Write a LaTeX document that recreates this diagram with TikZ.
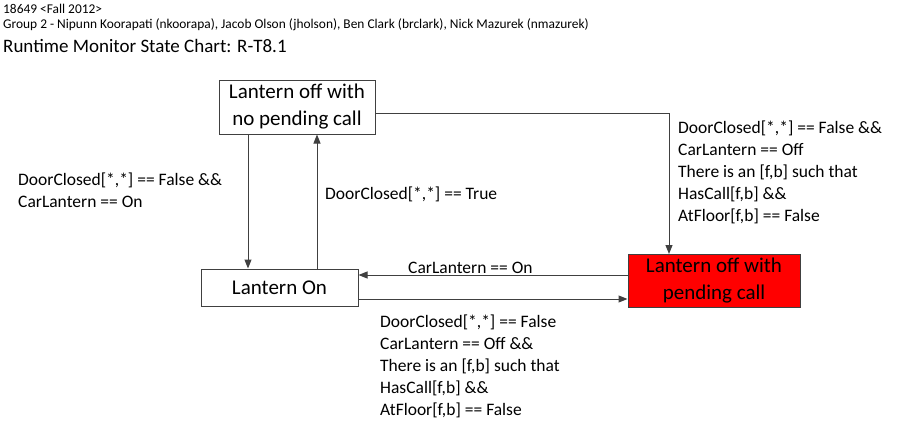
\documentclass[tikz,border=0pt]{standalone}
\usepackage{fontspec}
\setmainfont{Carlito}
\usetikzlibrary{arrows.meta}
\newcommand{\linecol}{black!75}
\newcommand{\pendcol}{red}

\begin{document}
\begin{tikzpicture}[x=1pt, y=-1pt,
    state/.style={draw=\linecol, line width=1pt, inner sep=0pt, align=center,
        font=\fontsize{21}{27}\selectfont},
    lbl/.style={anchor=north west, inner sep=0pt, align=left,
        font=\fontsize{17.5}{22}\selectfont},
    arr/.style={draw=\linecol, line width=1pt, -{Triangle[length=9pt, width=7pt]}}]

    \useasboundingbox (0,0) rectangle (900,423);

    \node[anchor=base west, inner sep=0pt, font=\fontsize{13.4}{15}\selectfont] (course) at (3,13) {18649 <Fall 2012>};
    \node[anchor=base west, inner sep=0pt, font=\fontsize{13.4}{15}\selectfont] (group) at (3,28) {Group 2 - Nipunn Koorapati (nkoorapa), Jacob Olson (jholson), Ben Clark (brclark), Nick Mazurek (nmazurek)};
    \node[anchor=base west, inner sep=0pt, font=\fontsize{19}{22}\selectfont] (title) at (3,52) {Runtime Monitor State Chart: R-T8.1};

    \node[state, minimum width=156pt, minimum height=54pt] (nopend) at (297,107) {Lantern off with\\no pending call};
    \node[state, minimum width=157pt, minimum height=37pt] (on) at (279.5,287.5) {Lantern On};
    \node[state, fill=\pendcol, minimum width=172pt, minimum height=53pt] (pend) at (714,281) {Lantern off with\\pending call};

    \draw[arr] ([xshift=-49pt]nopend.south) -- ([xshift=-49pt]nopend.south |- on.north);
    \draw[arr] ([xshift=20pt]nopend.south |- on.north) -- ([xshift=20pt]nopend.south);
    \draw[arr] ([yshift=-6pt]nopend.east) -| ([xshift=-45pt]pend.north);
    \draw[arr] ([yshift=6pt]pend.west) -- ([yshift=6pt]pend.west -| on.east);
    \draw[arr] ([yshift=-11.5pt]on.east) -- ([yshift=-11.5pt]on.east -| pend.west);

    \node[lbl] (offon) at (18,173) {DoorClosed[*,*] == False \&\&\\CarLantern == On};
    \node[lbl] (closed) at (325,187) {DoorClosed[*,*] == True};
    \node[lbl] (calloff) at (678,121) {DoorClosed[*,*] == False \&\&\\CarLantern == Off\\There is an [f,b] such that\\HasCall[f,b] \&\&\\AtFloor[f,b] == False};
    \node[lbl] (lanton) at (408,262) {CarLantern == On};
    \node[lbl] (oncall) at (380,315) {DoorClosed[*,*] == False\\CarLantern == Off \&\&\\There is an [f,b] such that\\HasCall[f,b] \&\&\\AtFloor[f,b] == False};
\end{tikzpicture}
\end{document}
